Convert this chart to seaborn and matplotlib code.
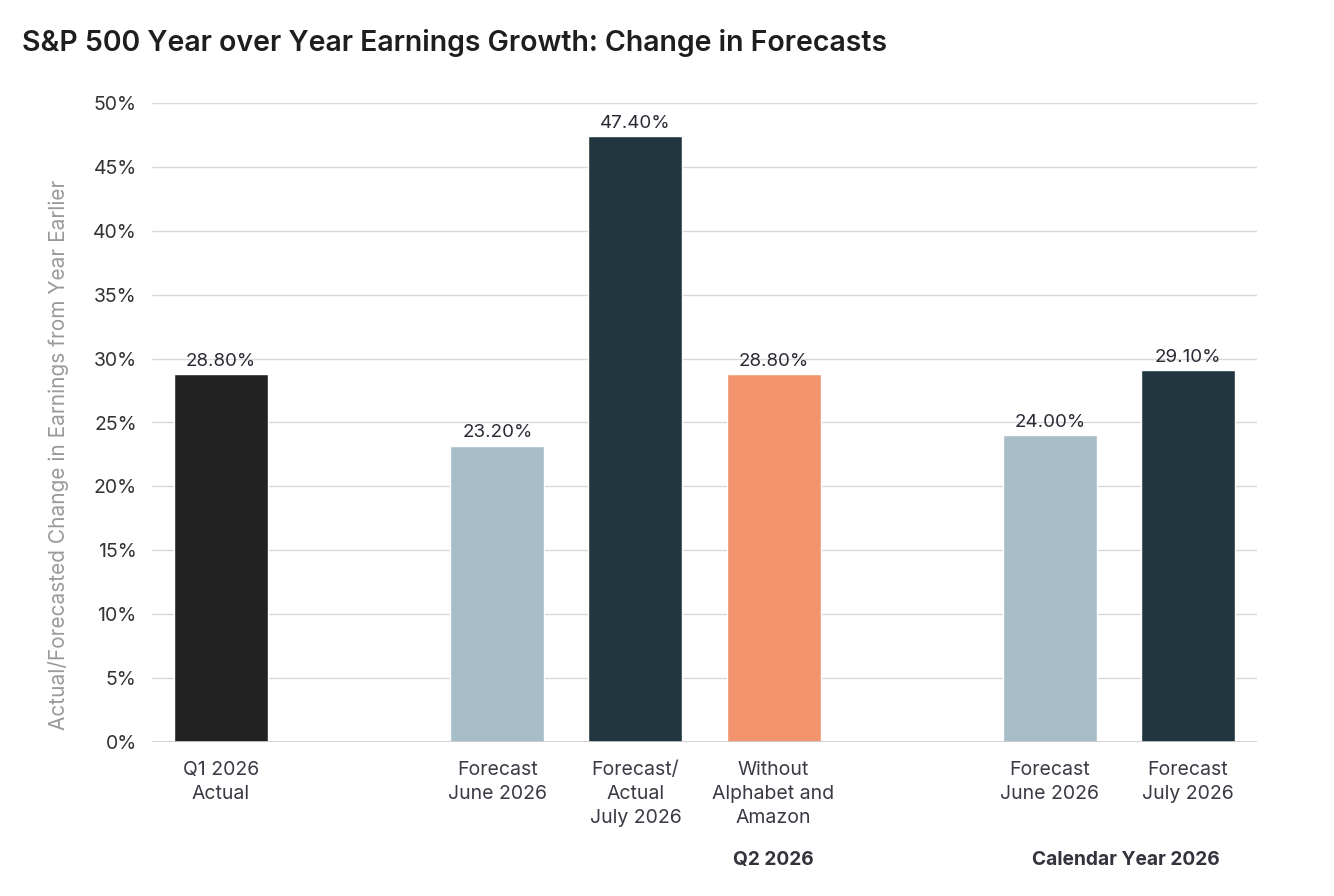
import matplotlib
matplotlib.use("Agg")
import matplotlib.pyplot as plt
import seaborn as sns
import pandas as pd

# Data
slots = ["q1", "gap1", "q2_june", "q2_july", "q2_ex", "gap2", "cy_june", "cy_july"]
categories = ["q1", "q2_june", "q2_july", "q2_ex", "cy_june", "cy_july"]
values = [28.8, 23.2, 47.4, 28.8, 24.0, 29.1]
value_labels = ["28.80%", "23.20%", "47.40%", "28.80%", "24.00%", "29.10%"]
tick_labels = ["Q1 2026\nActual", "", "Forecast\nJune 2026", "Forecast/\nActual\nJuly 2026",
               "Without\nAlphabet and\nAmazon", "", "Forecast\nJune 2026", "Forecast\nJuly 2026"]
bar_colors = ["#222222", "#a7bec9", "#21363e", "#f2956f", "#a7bec9", "#21363e"]
group_labels = ["Q2 2026", "Calendar Year 2026"]
yticks = [0, 5, 10, 15, 20, 25, 30, 35, 40, 45, 50]

sns.set_theme(style="white")
plt.rcParams['font.family'] = ['Inter', 'DejaVu Sans']

df = pd.DataFrame({"cat": categories, "val": values})

fig = plt.figure(figsize=(13.34, 8.96), dpi=100)
ax = fig.add_axes([152/1334, 1 - 742/896, (1257-152)/1334, (742-103)/896])

sns.barplot(data=df, x="cat", y="val", order=slots, hue="cat", hue_order=categories,
            palette=bar_colors, width=0.68, saturation=1, legend=False, ax=ax)

ax.set_ylim(0, 50)
ax.set_yticks(yticks)
ax.set_yticklabels([f"{t}%" for t in yticks], fontsize=14, color="#333333")
ax.set_xticks(range(len(slots)))
ax.set_xticklabels(tick_labels, fontsize=14, color="#3a3a45", linespacing=1.4, va="top")
ax.tick_params(axis="x", length=0, pad=14)
ax.tick_params(axis="y", length=0, pad=11)
ax.yaxis.grid(True, color="#d9d9d9", linewidth=1)
ax.set_axisbelow(True)
for s in ax.spines.values():
    s.set_visible(False)
ax.axhline(0, color="#cccccc", linewidth=1.2, zorder=1)
ax.set_xlabel("")
ax.set_ylabel("Actual/Forecasted Change in Earnings from Year Earlier",
              fontsize=15, color="#9a9a9a")
ax.yaxis.set_label_coords(-0.075, 0.45)

# bar labels
bars = [b for c in ax.containers for b in c]
bars = [b for b in bars if b.get_height() == b.get_height() and b.get_height() > 0]
bars.sort(key=lambda b: b.get_x())
for b, lab in zip(bars, value_labels):
    ax.annotate(lab, (b.get_x() + b.get_width()/2, b.get_height()), xytext=(0, 3),
                textcoords="offset points", ha="center", va="bottom",
                fontsize=13.5, color="#2a2a35")

fig.text(22/1334, 1 - 43/896, "S&P 500 Year over Year Earnings Growth: Change in Forecasts",
         fontsize=20.5, fontweight="semibold", color="#1e1e1e", ha="left", va="center")

ax.text(4, -0.185, group_labels[0], transform=ax.get_xaxis_transform(), ha="center", va="center",
        fontsize=13.8, fontweight="bold", color="#33333d")
ax.text(6.55, -0.185, group_labels[1], transform=ax.get_xaxis_transform(), ha="center", va="center",
        fontsize=13.8, fontweight="bold", color="#33333d")

fig.savefig("out.png", dpi=100)
